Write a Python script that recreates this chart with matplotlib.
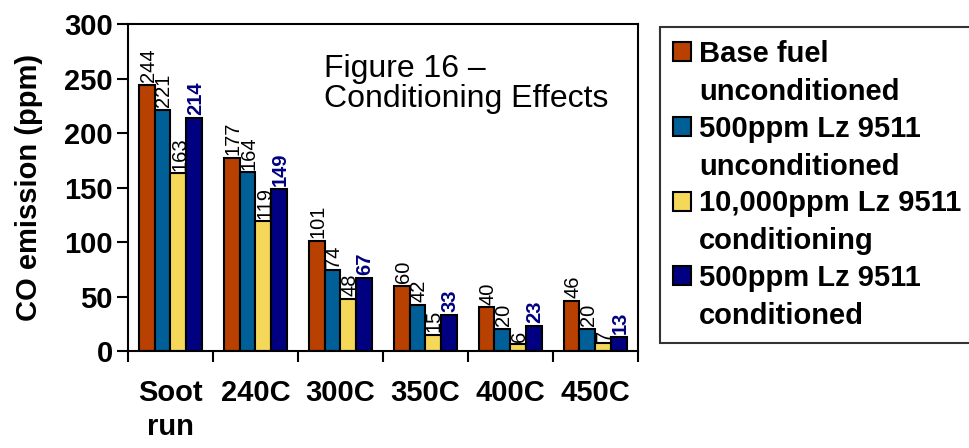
import numpy as np
import matplotlib.pyplot as plt
from matplotlib.patches import Rectangle
from matplotlib.container import BarContainer
from matplotlib.legend_handler import HandlerPatch

plt.rcParams['font.family'] = ['Liberation Sans', 'DejaVu Sans']

categories = ['Soot\nrun', '240C', '300C', '350C', '400C', '450C']
series_names = ['Base fuel\nunconditioned', '500ppm Lz 9511\nunconditioned',
                '10,000ppm Lz 9511\nconditioning', '500ppm Lz 9511\nconditioned']
base_uncond = [244, 177, 101, 60, 40, 46]
lz500_uncond = [221, 164, 74, 42, 20, 20]
lz10000_cond = [163, 119, 48, 15, 6, 7]
lz500_cond = [214, 149, 67, 33, 23, 13]

colors = ['#B84000', '#005F96', '#F5D75A', '#000080']
label_colors = ['black', 'black', 'black', '#000080']
label_weights = ['normal', 'normal', 'normal', 'bold']


def top_square(legend, orig_handle, xdescent, ydescent, width, height, fontsize):
    # put the swatch next to the first line of a two-line label
    return Rectangle((-xdescent, -ydescent + 0.75 * fontsize), width, height)


def copy_style(legend_handle, orig_handle):
    legend_handle.update_from(orig_handle.patches[0])


fig = plt.figure(figsize=(9.69, 4.48), dpi=100)
ax = fig.add_axes([0.132, 0.2165, 0.526, 0.7295])

x = np.arange(len(categories))
w = 0.185
all_series = [base_uncond, lz500_uncond, lz10000_cond, lz500_cond]
for i, vals in enumerate(all_series):
    pos = x + (i - 1.5) * w
    bars = ax.bar(pos, vals, w, color=colors[i], edgecolor='black', linewidth=1.5,
                  label=series_names[i])
    for b, v in zip(bars, vals):
        ax.annotate(str(v), (b.get_x() + b.get_width() / 2, v), xytext=(1, 2),
                    textcoords='offset points', rotation=90, ha='center', va='bottom',
                    fontsize=14.5, fontweight=label_weights[i], color=label_colors[i])

ax.set_xlim(-0.5, len(categories) - 0.5)
ax.set_ylim(0, 300)
ax.set_yticks(range(0, 301, 50))
ax.set_xticks(x)
ax.set_xticklabels(categories, fontsize=21, fontweight='bold', linespacing=1.3)
ax.set_xticks(np.arange(-0.5, len(categories)), minor=True)
ax.tick_params(axis='x', which='major', length=0, pad=20)
ax.tick_params(axis='x', which='minor', length=8, width=1.5)
ax.tick_params(axis='y', length=8, width=1.5, labelsize=21, pad=3)
for lbl in ax.get_yticklabels():
    lbl.set_fontweight('bold')
for s in ax.spines.values():
    s.set_linewidth(1.5)
ax.set_ylabel('CO emission (ppm)', fontsize=21, fontweight='bold', labelpad=15)

ax.text(0.385, 0.91, 'Figure 16 –\nConditioning Effects', transform=ax.transAxes,
        fontsize=23, va='top', ha='left', linespacing=1.0)

leg = fig.legend(loc='upper left', bbox_to_anchor=(0.681, 0.94),
                 prop={'weight': 'bold', 'size': 21}, frameon=True, fancybox=False,
                 edgecolor='black', handlelength=0.62, handleheight=0.62,
                 handletextpad=0.28, labelspacing=0.3, borderaxespad=0, borderpad=0.45,
                 handler_map={BarContainer: HandlerPatch(patch_func=top_square,
                                                         update_func=copy_style)})
for t in leg.get_texts():
    t.set_linespacing(1.45)
leg.get_frame().set_linewidth(1.5)

fig.savefig('out.png', dpi=100)
